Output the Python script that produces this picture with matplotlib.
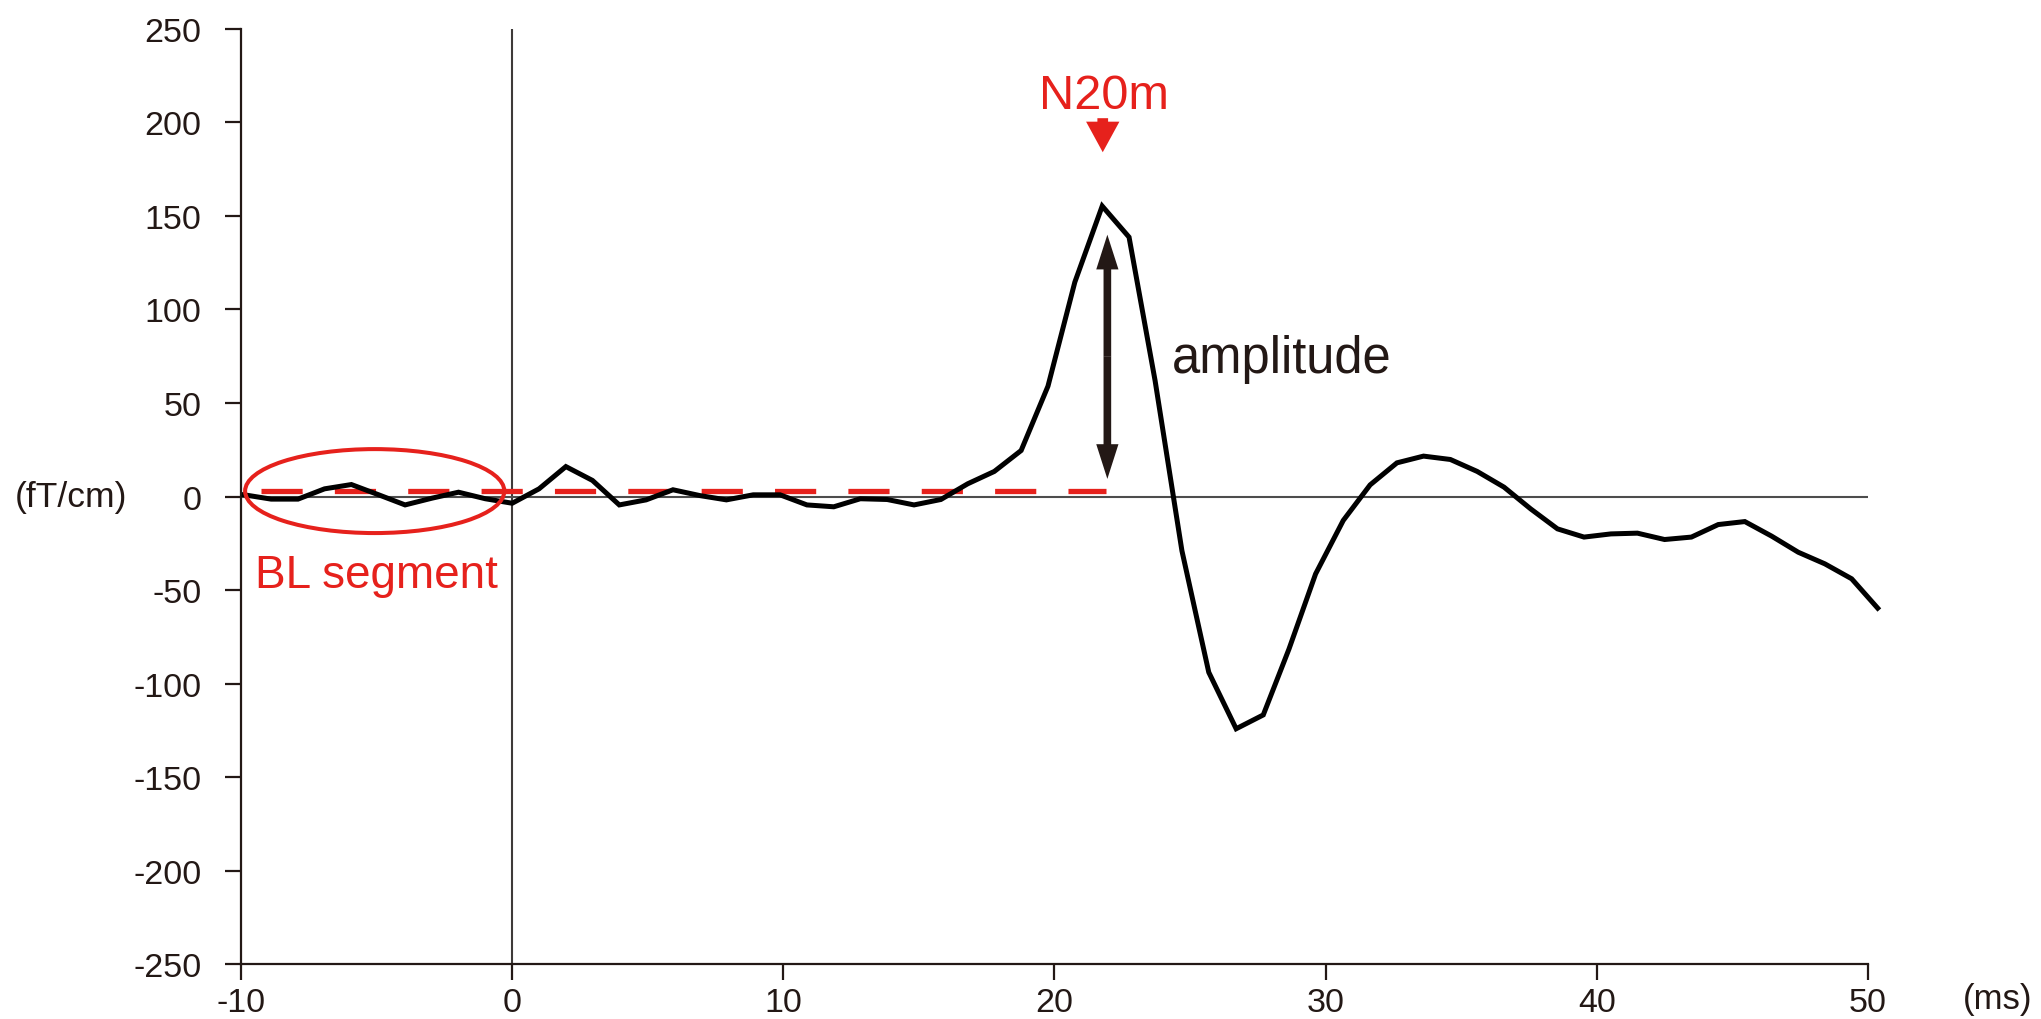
import matplotlib
matplotlib.use("Agg")
from matplotlib import pyplot as plt
from matplotlib.patches import Ellipse

plt.rcParams['font.family'] = ['Liberation Sans', 'DejaVu Sans']
plt.rcParams['axes.unicode_minus'] = False

# sample times (ms) and field values (fT/cm)
times = [-9.88, -8.89, -7.90, -6.92, -5.93, -4.94, -3.95, -2.96, -1.98, -0.99,
         0.00, 0.99, 1.98, 2.96, 3.95, 4.94, 5.93, 6.92, 7.90, 8.89,
         9.88, 10.87, 11.86, 12.84, 13.83, 14.82, 15.81, 16.80, 17.78, 18.77,
         19.76, 20.75, 21.76, 22.75, 23.71, 24.70, 25.69, 26.70, 27.70, 28.65,
         29.63, 30.65, 31.64, 32.63, 33.61, 34.60, 35.59, 36.58, 37.56, 38.55,
         39.53, 40.52, 41.50, 42.50, 43.49, 44.48, 45.46, 46.45, 47.43, 48.41,
         49.40, 50.36]
values = [0.9, -1.4, -1.4, 4.1, 6.4, 1.0, -4.5, -0.9, 2.3, -1.2,
          -3.6, 4.1, 16.0, 8.6, -4.5, -1.8, 3.6, 0.5, -1.8, 0.9,
          0.9, -4.5, -5.5, -1.2, -1.6, -4.5, -1.6, 6.8, 13.4, 24.6,
          59.0, 114.6, 155.3, 138.7, 62.0, -29.0, -94.0, -124.2, -116.8, -81.5,
          -41.4, -12.8, 6.2, 18.0, 21.6, 19.8, 13.4, 5.0, -6.6, -17.3,
          -21.7, -20.0, -19.6, -23.0, -21.7, -15.0, -13.4, -21.2, -29.8, -36.0,
          -44.0, -59.7]

x_ticks = [-10, 0, 10, 20, 30, 40, 50]
x_tick_labels = ['-10', '0', '10', '20', '30', '40', '50']
y_ticks = [-250, -200, -150, -100, -50, 0, 50, 100, 150, 200, 250]
y_tick_labels = ['-250', '-200', '-150', '-100', '-50', '0', '50', '100', '150', '200', '250']

baseline_level = 3.2
baseline_span = [-9.28, 21.9]
peak_time = 21.78
amp_time = 21.95
amp_range = [9.4, 140.0]
bl_centre = (-5.07, 2.9)
bl_size = (9.56, 44.9)

red = '#e6211c'
ink = '#231815'

fig = plt.figure(figsize=(20.41, 10.20), dpi=100)
ax = fig.add_axes([0.1181, 0.0539, 0.9152 - 0.1181, 0.9706 - 0.0539])
ax.set_xlim(-10, 50)
ax.set_ylim(-250, 250)

for s in ['top', 'right']:
    ax.spines[s].set_visible(False)
for s in ['left', 'bottom']:
    ax.spines[s].set_color(ink)
    ax.spines[s].set_linewidth(1.6)

ax.set_xticks(x_ticks)
ax.set_xticklabels(x_tick_labels)
ax.set_yticks(y_ticks)
ax.set_yticklabels(y_tick_labels)
ax.tick_params(axis='x', direction='out', length=11.3, width=1.6, color=ink,
               labelsize=24.5, labelcolor=ink, pad=5)
ax.tick_params(axis='y', direction='out', length=11.3, width=1.6, color=ink,
               labelsize=24.5, labelcolor=ink, pad=17)

ax.axvline(0, color='#3e3a39', lw=1.5, zorder=1)
ax.axhline(0, color='#4d4d4d', lw=1.5, zorder=1)

# baseline level (dashed)
ax.plot(baseline_span, [baseline_level, baseline_level], color=red, lw=3.8,
        dashes=(7.8, 6.1), zorder=2)

# evoked response
ax.plot(times, values, color='black', lw=3.6, solid_joinstyle='miter',
        zorder=3, clip_on=False)

# BL segment ellipse
ax.add_patch(Ellipse(bl_centre, bl_size[0], bl_size[1], fill=False,
                     edgecolor=red, lw=2.9, zorder=4))
ax.text(-9.48, -48.6, 'BL segment', color=red, fontsize=33, ha='left', va='baseline')

# amplitude double arrow
mid = (amp_range[0] + amp_range[1]) / 2
for tip in amp_range:
    ax.annotate('', xy=(amp_time, tip), xytext=(amp_time, mid),
                arrowprops=dict(facecolor=ink, edgecolor='none', width=5.5,
                                headwidth=16, headlength=25, shrink=0))
ax.text(24.34, 66.4, 'amplitude', color=ink, fontsize=36.5, ha='left', va='baseline')

# N20m marker
ax.annotate('', xy=(peak_time, 184.1), xytext=(peak_time, 202.3),
            arrowprops=dict(facecolor=red, edgecolor='none', width=7.7,
                            headwidth=24, headlength=22, shrink=0),
            annotation_clip=False)
ax.text(21.81, 207.8, 'N20m', color=red, fontsize=35, ha='center', va='baseline')

fig.text(71 / 2041, 1 - 497 / 1020, '(fT/cm)', color=ink, fontsize=25.5,
         ha='center', va='center')
fig.text(1998 / 2041, 1 - 1000 / 1020, '(ms)', color=ink, fontsize=25,
         ha='center', va='center')

fig.savefig('out.png', dpi=100)
